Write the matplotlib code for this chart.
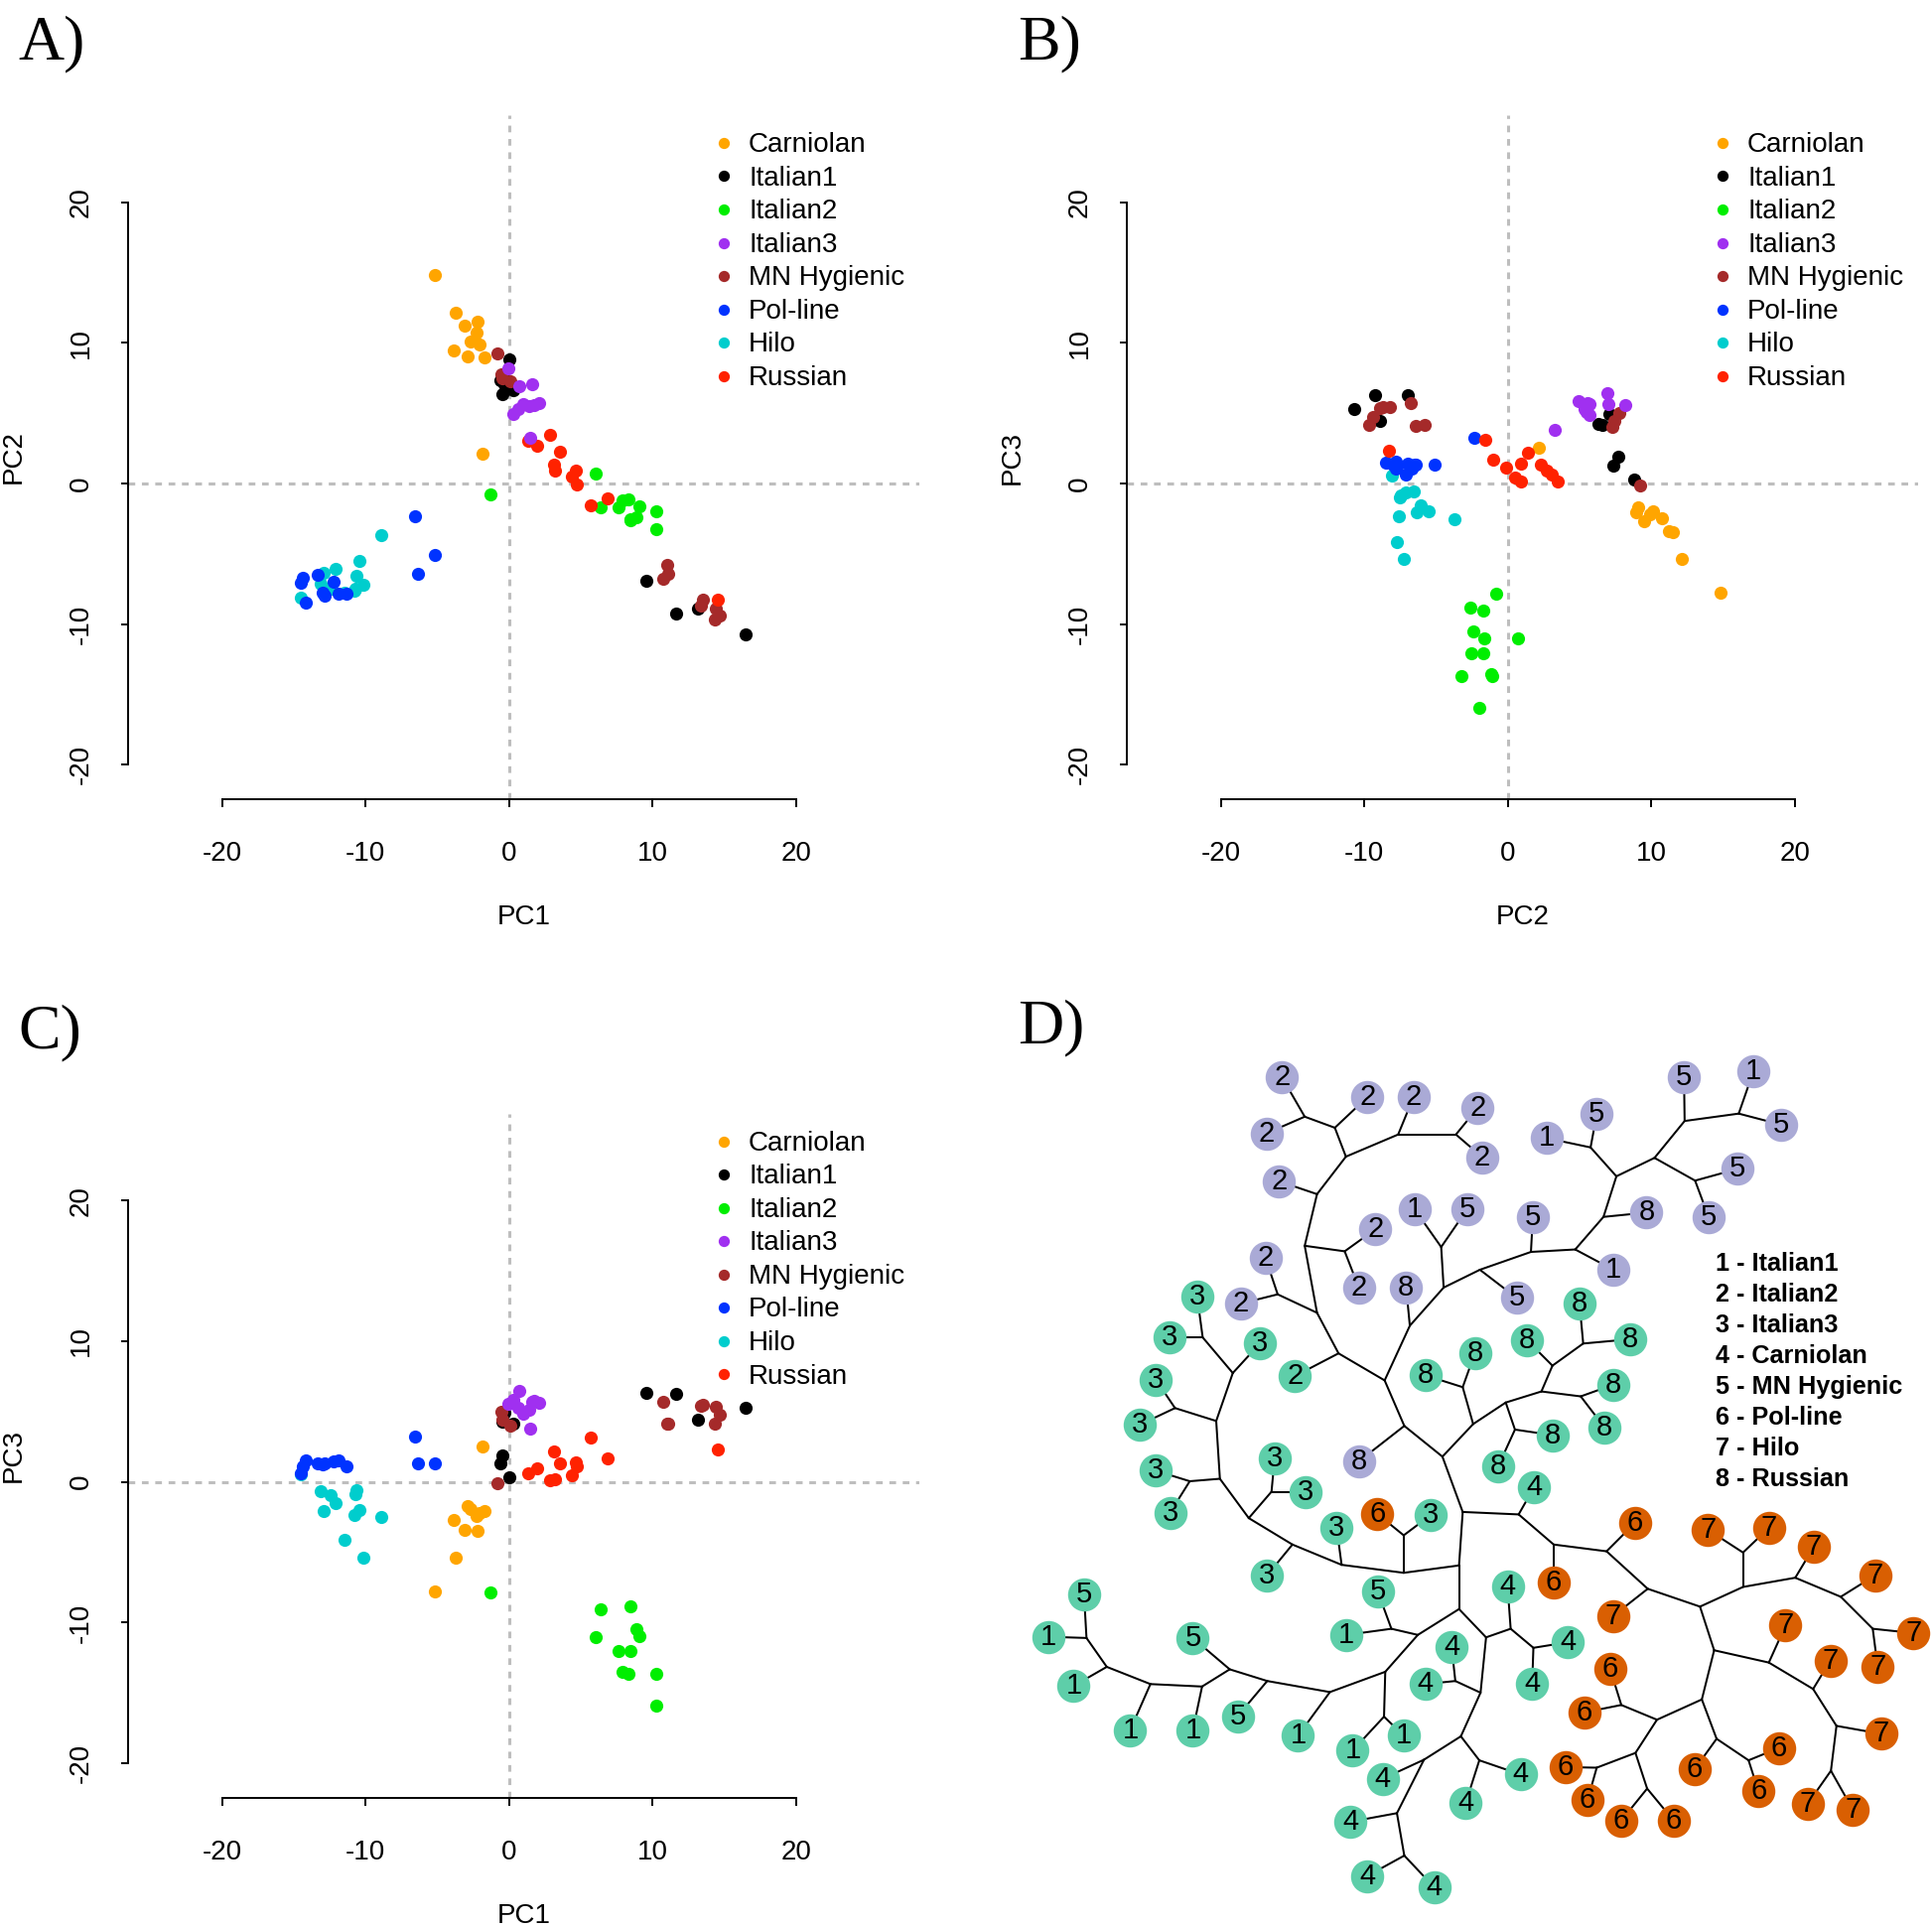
import matplotlib.pyplot as plt

plt.rcParams['font.family'] = ['Liberation Sans', 'DejaVu Sans']
plt.rcParams['axes.unicode_minus'] = False

# ---- PCA scores per population (PC1, PC2, PC3) ----
groups = ["Carniolan", "Italian1", "Italian2", "Italian3",
          "MN Hygienic", "Pol-line", "Hilo", "Russian"]
group_colors = ["#ffa500", "#000000", "#00ee00", "#a030f0",
                "#a52a2a", "#0033ff", "#00cdcd", "#ff2200"]

carniolan_pc1 = [-5.18, -3.73, -1.82, -3.85, -3.08, -2.18, -2.88, -1.73, -2.65, -2.26, -2.07]
carniolan_pc2 = [14.85, 12.15, 2.14, 9.48, 11.20, 11.50, 9.05, 8.96, 10.09, 10.73, 9.90]
carniolan_pc3 = [-7.75, -5.38, 2.52, -2.67, -3.40, -3.46, -1.72, -2.05, -1.95, -2.45, -2.20]

italian1_pc1 = [9.55, 11.61, 13.15, 16.45, 0.00, -0.46, -0.58, -0.46, 0.27, -0.30]
italian1_pc2 = [-6.95, -9.23, -8.88, -10.72, 8.82, 7.70, 7.34, 6.33, 6.61, 7.05]
italian1_pc3 = [6.31, 6.27, 4.42, 5.28, 0.30, 1.91, 1.30, 4.26, 4.15, 4.95]

italian2_pc1 = [-1.33, 6.04, 10.24, 10.24, 6.36, 8.44, 8.84, 9.06, 7.60, 8.44, 7.92, 8.29]
italian2_pc2 = [-0.80, 0.72, -2.01, -3.24, -1.72, -2.58, -2.42, -1.65, -1.69, -2.57, -1.17, -1.10]
italian2_pc3 = [-7.82, -11.00, -15.92, -13.67, -9.06, -8.85, -10.48, -10.99, -12.05, -12.05, -13.52, -13.67]

italian3_pc1 = [1.45, 0.74, 1.60, -0.02, 0.27, 0.62, 0.97, 1.43, 1.77, 2.12]
italian3_pc2 = [3.27, 6.92, 7.03, 8.18, 4.96, 5.31, 5.67, 5.48, 5.55, 5.72]
italian3_pc3 = [3.82, 6.45, 5.68, 5.55, 5.85, 5.30, 4.85, 5.10, 5.75, 5.62]

mnhyg_pc1 = [10.71, 11.05, 11.00, 13.49, 14.43, 14.65, 14.30, 13.36, -0.83, -0.55, -0.50, 0.10]
mnhyg_pc2 = [-6.78, -6.40, -5.82, -8.24, -8.90, -9.40, -9.65, -8.69, 9.22, 7.74, 7.45, 7.30]
mnhyg_pc3 = [5.70, 4.12, 4.14, 5.45, 5.35, 4.75, 4.15, 5.40, -0.12, 4.98, 4.45, 4.00]

polline_pc1 = [-6.55, -5.20, -6.37, -14.17, -14.50, -14.40, -13.34, -12.20, -12.98, -12.84, -11.86, -11.32]
polline_pc2 = [-2.30, -5.10, -6.43, -8.50, -7.08, -6.72, -6.50, -6.97, -7.74, -8.00, -7.81, -7.81]
polline_pc3 = [3.25, 1.31, 1.31, 1.50, 0.62, 1.09, 1.35, 1.44, 1.22, 1.35, 1.53, 1.09]

hilo_pc1 = [-8.89, -10.15, -11.48, -14.54, -10.43, -12.09, -12.94, -10.63, -10.78, -13.12, -10.71, -12.46]
hilo_pc2 = [-3.70, -7.22, -7.76, -8.10, -5.50, -6.06, -6.33, -6.53, -7.60, -7.10, -7.45, -7.50]
hilo_pc3 = [-2.52, -5.35, -4.14, 0.54, -1.97, -1.52, -2.05, -0.59, -2.32, -0.67, -0.85, -0.96]

russian_pc1 = [14.52, 5.66, 6.86, 4.70, 4.40, 3.18, 4.63, 3.13, 3.56, 1.97, 1.30, 2.87]
russian_pc2 = [-8.28, -1.54, -1.05, -0.09, 0.49, 0.90, 0.93, 1.37, 2.27, 2.71, 3.03, 3.46]
russian_pc3 = [2.33, 3.14, 1.69, 1.14, 0.45, 0.17, 1.41, 2.19, 1.32, 0.94, 0.61, 0.14]

pcs = {
    "Carniolan": (carniolan_pc1, carniolan_pc2, carniolan_pc3),
    "Italian1": (italian1_pc1, italian1_pc2, italian1_pc3),
    "Italian2": (italian2_pc1, italian2_pc2, italian2_pc3),
    "Italian3": (italian3_pc1, italian3_pc2, italian3_pc3),
    "MN Hygienic": (mnhyg_pc1, mnhyg_pc2, mnhyg_pc3),
    "Pol-line": (polline_pc1, polline_pc2, polline_pc3),
    "Hilo": (hilo_pc1, hilo_pc2, hilo_pc3),
    "Russian": (russian_pc1, russian_pc2, russian_pc3),
}
draw_order = ["Carniolan", "Italian1", "MN Hygienic", "Hilo", "Pol-line",
              "Italian2", "Russian", "Italian3"]

# ---- tree (panel D): node layout, edges and tips ----
tree_nodes = {
    "A1": (551, 250), "A2": (600, 268), "A3": (618, 315), "A4": (703, 279),
    "A5": (797, 279), "A6": (571, 376), "A7": (551, 460), "A8": (616, 469),
    "A9": (571, 569), "A10": (507, 539), "A11": (606, 635), "A12": (681, 679),
    "A13": (722, 590), "A14": (777, 528), "A15": (773, 462), "A16": (713, 753),
    "A17": (775, 803),
    "F1": (836, 499), "F2": (919, 470), "F3": (991, 466), "F4": (1037, 413),
    "F5": (1058, 347), "F6": (1016, 300), "F7": (1120, 317), "F8": (1169, 257),
    "F9": (1257, 245), "F10": (1186, 354),
    "E1": (825, 750), "E2": (808, 690), "E3": (878, 715), "E4": (893, 759),
    "E5": (936, 697), "E6": (954, 655), "E7": (1004, 619), "E8": (1000, 705),
    "C1": (808, 893),
    "D2": (899, 897), "D3": (956, 946), "D4": (1042, 957), "D5": (1109, 1018),
    "D6": (1194, 1047), "D7": (1264, 1015), "D8": (1264, 959), "D9": (1349, 1000),
    "D10": (1423, 1031), "D11": (1475, 1083), "D12": (1217, 1118), "D13": (1306, 1138),
    "D14": (1378, 1181), "D15": (1416, 1241), "D16": (1407, 1314), "D17": (1197, 1198),
    "D18": (1124, 1231), "D19": (1066, 1207), "D20": (1089, 1285), "D21": (1026, 1309),
    "D22": (1108, 1343), "D23": (1221, 1262), "D24": (1273, 1297),
    "B1": (385, 609), "B2": (434, 667), "B3": (407, 745), "B4": (340, 724),
    "B5": (413, 839), "B6": (364, 843), "B7": (460, 903), "B8": (497, 860),
    "B9": (531, 946), "B10": (611, 979), "B11": (712, 992), "B12": (712, 931),
    "B13": (802, 980), "B14": (802, 1051), "B15": (735, 1093), "B16": (692, 1083),
    "B17": (682, 1153), "B18": (680, 1226), "B19": (592, 1186), "B20": (490, 1168),
    "B21": (429, 1149), "B22": (384, 1177), "B23": (300, 1173), "B24": (229, 1145),
    "B25": (196, 1098),
    "C2": (846, 1097), "C3": (886, 1083), "C4": (923, 1114), "C5": (837, 1187),
    "C6": (796, 1168), "C7": (805, 1258), "C8": (835, 1297), "C9": (745, 1296),
    "C10": (701, 1383), "C11": (713, 1452),
}
tree_edges = [
    ("A1", "A2"), ("A2", "A3"), ("A3", "A4"), ("A4", "A5"), ("A3", "A6"),
    ("A6", "A7"), ("A7", "A8"), ("A7", "A9"), ("A9", "A10"), ("A9", "A11"),
    ("A11", "A12"), ("A12", "A13"), ("A13", "A14"), ("A14", "A15"), ("A14", "F1"),
    ("F1", "F2"), ("F2", "F3"), ("F3", "F4"), ("F4", "F5"), ("F5", "F6"),
    ("F5", "F7"), ("F7", "F8"), ("F8", "F9"), ("F7", "F10"),
    ("A12", "A16"), ("A16", "A17"), ("A17", "C1"), ("A17", "E1"),
    ("E1", "E2"), ("E1", "E3"), ("E3", "E4"), ("E3", "E5"), ("E5", "E6"),
    ("E6", "E7"), ("E5", "E8"),
    ("C1", "D2"), ("D2", "D3"), ("D3", "D4"), ("D4", "D5"), ("D5", "D6"),
    ("D6", "D7"), ("D7", "D8"), ("D7", "D9"), ("D9", "D10"), ("D10", "D11"),
    ("D6", "D12"), ("D12", "D13"), ("D13", "D14"), ("D14", "D15"), ("D15", "D16"),
    ("D12", "D17"), ("D17", "D18"), ("D18", "D19"), ("D18", "D20"), ("D20", "D21"),
    ("D20", "D22"), ("D17", "D23"), ("D23", "D24"),
    ("C1", "B13"), ("B13", "B11"), ("B11", "B12"), ("B11", "B10"), ("B10", "B9"),
    ("B9", "B7"), ("B7", "B8"), ("B7", "B5"), ("B5", "B6"), ("B5", "B3"),
    ("B3", "B4"), ("B3", "B2"), ("B2", "B1"),
    ("B13", "B14"), ("B14", "B15"), ("B15", "B16"), ("B15", "B17"), ("B17", "B18"),
    ("B17", "B19"), ("B19", "B20"), ("B20", "B21"), ("B21", "B22"), ("B22", "B23"),
    ("B23", "B24"), ("B24", "B25"),
    ("B14", "C2"), ("C2", "C3"), ("C3", "C4"), ("C2", "C5"), ("C5", "C6"),
    ("C5", "C7"), ("C7", "C8"), ("C7", "C9"), ("C9", "C10"), ("C10", "C11"),
]
# tips: (x, y, population number, parent node)
purple_tips = [
    (514, 186, "2", "A1"), (489, 277, "2", "A1"), (653, 218, "2", "A2"),
    (728, 218, "2", "A4"), (832, 236, "2", "A5"), (840, 316, "2", "A5"),
    (509, 355, "2", "A6"), (666, 433, "2", "A8"), (639, 528, "2", "A8"),
    (487, 479, "2", "A10"), (447, 554, "2", "A10"), (716, 528, "8", "A13"),
    (730, 401, "1", "A15"), (815, 401, "5", "A15"), (640, 810, "8", "A16"),
    (896, 545, "5", "F1"), (922, 414, "5", "F2"), (1053, 499, "1", "F3"),
    (1107, 406, "8", "F4"), (945, 285, "1", "F6"), (1026, 246, "5", "F6"),
    (1168, 186, "5", "F8"), (1281, 176, "1", "F9"), (1326, 263, "5", "F9"),
    (1255, 335, "5", "F10"), (1208, 413, "5", "F10"),
]
green_tips = [
    (376, 542, "3", "B1"), (331, 609, "3", "B1"), (478, 619, "3", "B2"),
    (309, 678, "3", "B4"), (283, 751, "3", "B4"), (309, 826, "3", "B6"),
    (332, 894, "3", "B6"), (502, 806, "3", "B8"), (552, 860, "3", "B8"),
    (490, 996, "3", "B9"), (603, 919, "3", "B10"), (756, 898, "3", "B12"),
    (535, 672, "2", "A11"),
    (748, 671, "8", "E2"), (828, 634, "8", "E2"), (954, 768, "8", "E4"),
    (866, 818, "8", "E4"), (913, 614, "8", "E6"), (998, 554, "8", "E7"),
    (1081, 612, "8", "E7"), (1053, 686, "8", "E8"), (1039, 756, "8", "E8"),
    (924, 853, "4", "D2"), (881, 1014, "4", "C3"), (979, 1105, "4", "C4"),
    (921, 1172, "4", "C4"), (790, 1113, "4", "C6"), (747, 1173, "4", "C6"),
    (813, 1366, "4", "C8"), (902, 1320, "4", "C8"), (678, 1327, "4", "C9"),
    (625, 1397, "4", "C10"), (653, 1485, "4", "C11"), (762, 1504, "4", "C11"),
    (670, 1023, "5", "B16"), (619, 1093, "1", "B16"), (629, 1281, "1", "B18"),
    (712, 1257, "1", "B18"), (540, 1257, "1", "B19"), (442, 1225, "5", "B20"),
    (369, 1098, "5", "B21"), (369, 1248, "1", "B22"), (267, 1248, "1", "B23"),
    (175, 1176, "1", "B24"), (134, 1096, "1", "B25"), (192, 1027, "5", "B25"),
]
orange_tips = [
    (669, 896, "6", "B12"), (1088, 911, "6", "D4"), (956, 1007, "6", "D3"),
    (1053, 1062, "7", "D5"), (1207, 922, "7", "D8"), (1306, 919, "7", "D8"),
    (1379, 950, "7", "D9"), (1479, 996, "7", "D10"), (1541, 1090, "7", "D11"),
    (1483, 1145, "7", "D11"), (1333, 1078, "7", "D13"), (1406, 1135, "7", "D14"),
    (1489, 1254, "7", "D15"), (1369, 1368, "7", "D16"), (1443, 1378, "7", "D16"),
    (1048, 1149, "6", "D19"), (1006, 1219, "6", "D19"), (975, 1308, "6", "D21"),
    (1011, 1362, "6", "D21"), (1066, 1395, "6", "D22"), (1151, 1395, "6", "D22"),
    (1185, 1312, "6", "D23"), (1322, 1277, "6", "D24"), (1289, 1347, "6", "D24"),
]
tree_key = ["1 - Italian1", "2 - Italian2", "3 - Italian3", "4 - Carniolan",
            "5 - MN Hygienic", "6 - Pol-line", "7 - Hilo", "8 - Russian"]

W, H = 1946, 1941
fig = plt.figure(figsize=(W / 100, H / 100), dpi=100)
FS = 20
GREY = "#bebebe"


def px_axes(left, top, width, height):
    return fig.add_axes([left / W, 1 - (top + height) / H, width / W, height / H])


def pca_panel(ax, xi, yi, xlabel, ylabel):
    ax.axhline(0, color=GREY, lw=2.2, dashes=(2.2, 2.2), zorder=0)
    ax.axvline(0, color=GREY, lw=2.2, dashes=(2.2, 2.2), zorder=0)
    col = dict(zip(groups, group_colors))
    for name in draw_order:
        ax.scatter(pcs[name][xi], pcs[name][yi], s=90, color=col[name],
                   linewidths=0, zorder=2)
    ax.set_xlim(-26.54, 28.58)
    ax.set_ylim(-22.44, 26.18)
    for s in ["top", "right"]:
        ax.spines[s].set_visible(False)
    for s in ["left", "bottom"]:
        ax.spines[s].set_bounds(-20, 20)
        ax.spines[s].set_linewidth(1.4)
    ax.set_xticks([-20, -10, 0, 10, 20])
    ax.set_yticks([-20, -10, 0, 10, 20])
    ax.tick_params(direction="out", length=5.4, width=1.4, labelsize=FS)
    ax.tick_params(axis="x", pad=25.0)
    ax.tick_params(axis="y", pad=19.5, labelrotation=90)
    for t in ax.get_yticklabels():
        t.set_va("center")
    ax.text(0.5, -0.1727, xlabel, transform=ax.transAxes, ha="center",
            va="center", fontsize=FS)
    ax.text(-0.145, 0.5, ylabel, transform=ax.transAxes, ha="center",
            va="center", rotation=90, fontsize=FS)
    for i, name in enumerate(groups):
        y = 0.9595 - i * 0.0487
        ax.scatter([0.7533], [y], s=66, color=group_colors[i], linewidths=0,
                   transform=ax.transAxes, clip_on=False)
        ax.text(0.7842, y - 0.003, name, transform=ax.transAxes, va="center",
                fontsize=FS)


ax_a = px_axes(129, 116, 797, 689)
pca_panel(ax_a, 0, 1, "PC1", "PC2")
ax_b = px_axes(1135, 116, 797, 689)
pca_panel(ax_b, 1, 2, "PC2", "PC3")
ax_c = px_axes(129, 1121.7, 797, 689)
pca_panel(ax_c, 0, 2, "PC1", "PC3")

# ---- panel D: tree ----
ax_d = px_axes(973, 970, 973, 971)
ax_d.set_xlim(0, 973 * 1.615)
ax_d.set_ylim(971 * 1.615, 0)
ax_d.axis("off")
for a, b in tree_edges:
    (x0, y0), (x1, y1) = tree_nodes[a], tree_nodes[b]
    ax_d.plot([x0, x1], [y0, y1], color="black", lw=1.45, zorder=1,
              solid_capstyle="round")
for tips, colr in [(purple_tips, "#aaaad6"), (green_tips, "#5ecea9"),
                   (orange_tips, "#d95f02")]:
    for x, y, lab, parent in tips:
        px, py = tree_nodes[parent]
        ax_d.plot([px, x], [py, y], color="black", lw=1.45, zorder=1,
                  solid_capstyle="round")
    ax_d.scatter([t[0] for t in tips], [t[1] for t in tips], s=580,
                 color=colr, linewidths=0, zorder=2)
    for x, y, lab, parent in tips:
        ax_d.text(x, y, lab, ha="center", va="center", fontsize=21, zorder=3)
for i, lab in enumerate(tree_key):
    ax_d.text(1218.6, 489.7 + i * 49.95, lab, ha="left", va="center",
              fontsize=18.2, fontweight="bold")

# ---- panel letters ----
for lx, ly, lab in [(18.6, 59, "A)"), (1025.6, 59, "B)"),
                    (18.6, 1055, "C)"), (1025.6, 1050, "D)")]:
    fig.text(lx / W, 1 - ly / H, lab, family="Liberation Serif", fontsize=46,
             va="baseline", ha="left")

fig.savefig("out.png", dpi=100)
